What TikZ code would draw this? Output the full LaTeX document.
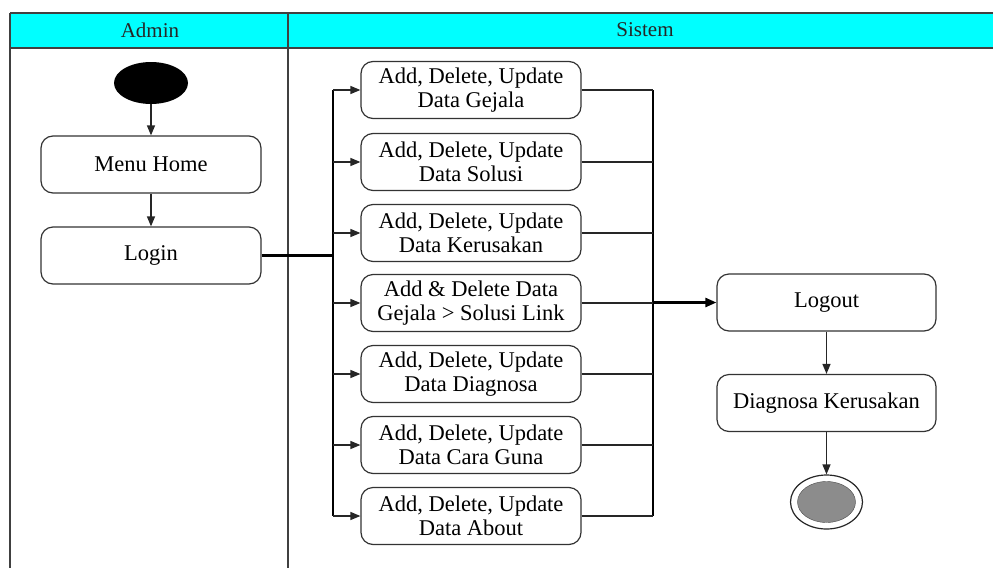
\documentclass[tikz,border=0pt]{standalone}
\usepackage{fontspec}
\setmainfont{Liberation Serif}
\usetikzlibrary{arrows.meta,shapes.geometric}
\definecolor{laneHead}{RGB}{0,255,255}
\definecolor{stopGray}{RGB}{140,140,140}

\begin{document}
\begin{tikzpicture}[x=1pt,y=-1pt,
  act/.style={draw=black!80, line width=1.2pt, rounded corners=12pt, fill=white,
    minimum width=220pt, minimum height=57pt, align=center, inner sep=0pt,
    font=\rmfamily\fontsize{22.5}{24}\selectfont},
  flow/.style={line width=1.3pt, draw=black!85, -{Triangle[length=10pt,width=8pt]}},
  link/.style={line width=1.3pt, draw=black!85},
  trunk/.style={line width=2.4pt, draw=black},
  lane/.style={line width=2pt, draw=black!75},
  head/.style={font=\rmfamily\fontsize{21}{23}\selectfont, text=black!85}]

\useasboundingbox (0,0) rectangle (993,568);

% swimlane frame and header band
\fill[laneHead] (10,13) rectangle (993,48);
\draw[lane] (10,13) -- (993,13);
\draw[lane] (10,48) -- (993,48);
\draw[lane] (10,13) -- (10,568);
\draw[lane] (288,13) -- (288,568);
\node[head] (hAdmin) at (150,30) {Admin};
\node[head] (hSistem) at (645,30) {Sistem};

% Admin lane
\node[ellipse, fill=black, minimum width=74pt, minimum height=42pt, inner sep=0pt] (start) at (151,83) {};
\node[act] (home) at (151,164.5) {Menu Home};
\node[act] (login) at (151,255.5) {Login};
\draw[flow] (start) -- (home);
\draw[flow] (home) -- (login);

% Sistem lane: management activities
\node[act] (a1) at (471,90)  {Add, Delete, Update\\Data Gejala};
\node[act] (a2) at (471,162) {Add, Delete, Update\\Data Solusi};
\node[act] (a3) at (471,233) {Add, Delete, Update\\Data Kerusakan};
\node[act] (a4) at (471,303) {Add \& Delete Data\\Gejala > Solusi Link};
\node[act] (a5) at (471,374) {Add, Delete, Update\\Data Diagnosa};
\node[act] (a6) at (471,445) {Add, Delete, Update\\Data Cara Guna};
\node[act] (a7) at (471,516) {Add, Delete, Update\\Data About};

\node[act, minimum width=219pt] (logout) at (826.5,302.5) {Logout};
\node[act, minimum width=219pt] (diag) at (826.5,403) {Diagnosa Kerusakan};
\node[ellipse, draw=black!85, line width=1.2pt, fill=white, minimum width=72pt, minimum height=54pt, inner sep=0pt] (stop) at (826.5,502) {};
\node[ellipse, draw=black!70, fill=stopGray, minimum width=58pt, minimum height=41pt, inner sep=0pt] (stopcore) at (stop.center) {};

% fork bus after login
\coordinate (forkTop) at (333,90);
\coordinate (forkBot) at (333,516);
\coordinate (forkIn) at (333,255.5);
\draw[trunk] (login.east) -- (forkIn);
\draw[trunk] (forkTop) -- (forkBot);
\foreach \n in {a1,a2,a3,a4,a5,a6,a7}
  \draw[flow] (forkTop |- \n.west) -- (\n.west);

% join bus towards logout
\coordinate (joinTop) at (653,90);
\coordinate (joinBot) at (653,516);
\draw[trunk] (joinTop) -- (joinBot);
\foreach \n in {a1,a2,a3,a4,a5,a6,a7}
  \draw[link] (\n.east) -- (joinTop |- \n.east);
\draw[trunk, -{Triangle[length=11pt,width=9pt]}] (joinTop |- logout.west) -- (logout.west);

% closing steps
\draw[flow] (logout) -- (diag);
\draw[flow] (diag) -- (stop);
\end{tikzpicture}
\end{document}
